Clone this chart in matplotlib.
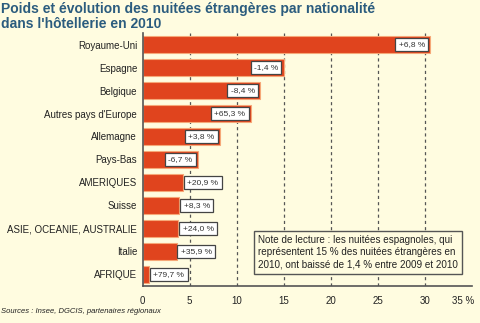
import matplotlib
matplotlib.use("Agg")
import matplotlib.pyplot as plt
import matplotlib.transforms as mtrans
import numpy as np

plt.rcParams['font.family'] = ['Liberation Sans', 'DejaVu Sans']

# data
pays = ['Royaume-Uni', 'Espagne', 'Belgique', "Autres pays d'Europe", 'Allemagne',
        'Pays-Bas', 'AMERIQUES', 'Suisse', 'ASIE, OCEANIE, AUSTRALIE', 'Italie', 'AFRIQUE']
poids = [30.6, 15.0, 12.5, 11.5, 8.2, 5.9, 4.3, 3.9, 3.8, 3.6, 0.7]
evolution = ['+6,8 %', '-1,4 %', '-8,4 %', '+65,3 %', '+3,8 %', '-6,7 %',
             '+20,9 %', '+8,3 %', '+24,0 %', '+35,9 %', '+79,7 %']
xticks = [0, 5, 10, 15, 20, 25, 30, 35]
xticklabels = ['0', '5', '10', '15', '20', '25', '30', '35 %']

bg = '#FFFCE0'
bar_col = '#E0441E'
title_col = '#2B5C7E'

fig = plt.figure(figsize=(4.8, 3.23), dpi=100, facecolor=bg)
ax = fig.add_axes([0.2973, 0.1146, 0.6854, 0.7832], facecolor=bg)

y = np.arange(len(pays))
ax.barh(y, poids, height=0.75, color=bar_col, edgecolor='#F6A878', linewidth=0.8, zorder=2)

for xv in xticks[1:-1]:
    ax.axvline(xv, color='#555555', lw=0.9, ls=(0, (2.5, 2.5)), zorder=1)

for i, (v, lab) in enumerate(zip(poids, evolution)):
    if v >= 5:
        off, ha = -4, 'right'
    else:
        off, ha = 3, 'left'
    ax.annotate(lab, xy=(v, i), xytext=(off, 0), textcoords='offset points',
                ha=ha, va='center', fontsize=6, color='#333333', zorder=4,
                bbox=dict(boxstyle='square,pad=0.4', fc='white', ec='#444444', lw=0.9))

ax.set_xlim(0, 35)
ax.set_ylim(len(pays) - 0.5, -0.5)
ax.set_yticks(y)
ax.set_yticklabels(pays, fontsize=7, color='#222222')
ax.set_xticks(xticks)
ax.set_xticklabels(xticklabels, fontsize=7, color='#222222')
ax.tick_params(axis='both', length=0)
ax.tick_params(axis='y', pad=4)
ax.tick_params(axis='x', pad=7)
# last label sits a bit left so it stays inside the figure
last = ax.get_xticklabels()[-1]
last.set_transform(last.get_transform() + mtrans.ScaledTranslation(-6 / 72, 0, fig.dpi_scale_trans))
for s in ['top', 'right']:
    ax.spines[s].set_visible(False)
for s in ['left', 'bottom']:
    ax.spines[s].set_color('#555555')
    ax.spines[s].set_linewidth(1.2)
ax.spines['left'].set_zorder(3)

fig.text(0.003, 0.995, "Poids et évolution des nuitées étrangères par nationalité\ndans l'hôtellerie en 2010",
         fontsize=10, fontweight='bold', color=title_col, ha='left', va='top', linespacing=1.1)

fig.text(0.5375, 0.273,
         "Note de lecture : les nuitées espagnoles, qui\nreprésentent 15 % des nuitées étrangères en\n2010, ont baissé de 1,4 % entre 2009 et 2010",
         fontsize=7.1, color='#222222', ha='left', va='top', linespacing=1.3, zorder=5,
         bbox=dict(boxstyle='square,pad=0.4', fc=bg, ec='#555555', lw=1.0))

fig.text(0.003, 0.025, "Sources : Insee, DGCIS, partenaires régionaux",
         fontsize=5.5, style='italic', color='#222222', ha='left', va='bottom')

fig.savefig('out.png', dpi=100, facecolor=bg)
